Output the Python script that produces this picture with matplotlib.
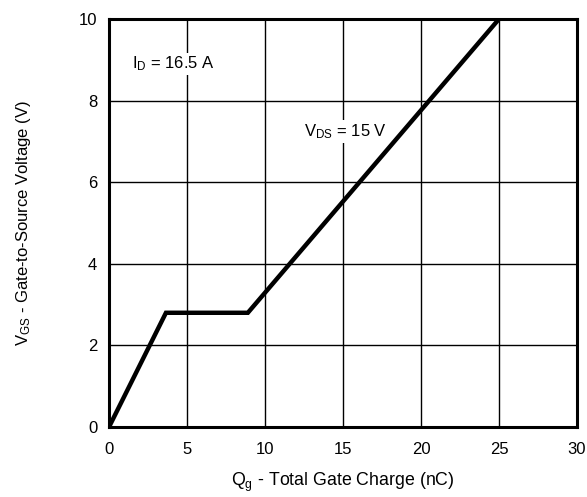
import matplotlib
matplotlib.use('Agg')
import matplotlib.pyplot as plt

# gate charge curve
qg = [0, 3.65, 8.9, 25.0]
vgs = [0, 2.8, 2.8, 10.0]

xticks = [0, 5, 10, 15, 20, 25, 30]
yticks = [0, 2, 4, 6, 8, 10]

plt.rcParams['font.family'] = ['Liberation Sans', 'DejaVu Sans']
plt.rcParams['mathtext.default'] = 'regular'

fig = plt.figure(figsize=(5.87, 4.97), dpi=100)
ax = fig.add_axes([0.1857, 0.1408, 0.7973, 0.821])

ax.plot(qg, vgs, color='black', lw=3.2, solid_joinstyle='miter', zorder=3)

ax.set_xlim(0, 30)
ax.set_ylim(0, 10)
ax.set_xticks(xticks)
ax.set_yticks(yticks)
ax.grid(True, color='black', lw=1.0)
ax.set_axisbelow(True)
for s in ax.spines.values():
    s.set_linewidth(2.2)
ax.tick_params(length=0, labelsize=12)
ax.tick_params(axis='x', pad=11)
ax.tick_params(axis='y', pad=8.5)

# subscript sits a bit higher so the g is not cut at the bottom edge
ax.set_xlabel('Q$_{\\mathregular{g}}$ - Total Gate Charge (nC)', fontsize=12.8, labelpad=10)
ax.set_ylabel('V$_{GS}$ - Gate-to-Source Voltage (V)', fontsize=12, labelpad=33)

box = dict(facecolor='white', edgecolor='none', pad=1.5)
ax.text(1.5, 8.9, 'I$_D$ = 16.5 A', fontsize=12, va='center', bbox=box, zorder=2)
ax.text(12.5, 7.25, 'V$_{DS}$ = 15 V', fontsize=12, va='center', bbox=box, zorder=2)

fig.savefig('out.png', dpi=100)
